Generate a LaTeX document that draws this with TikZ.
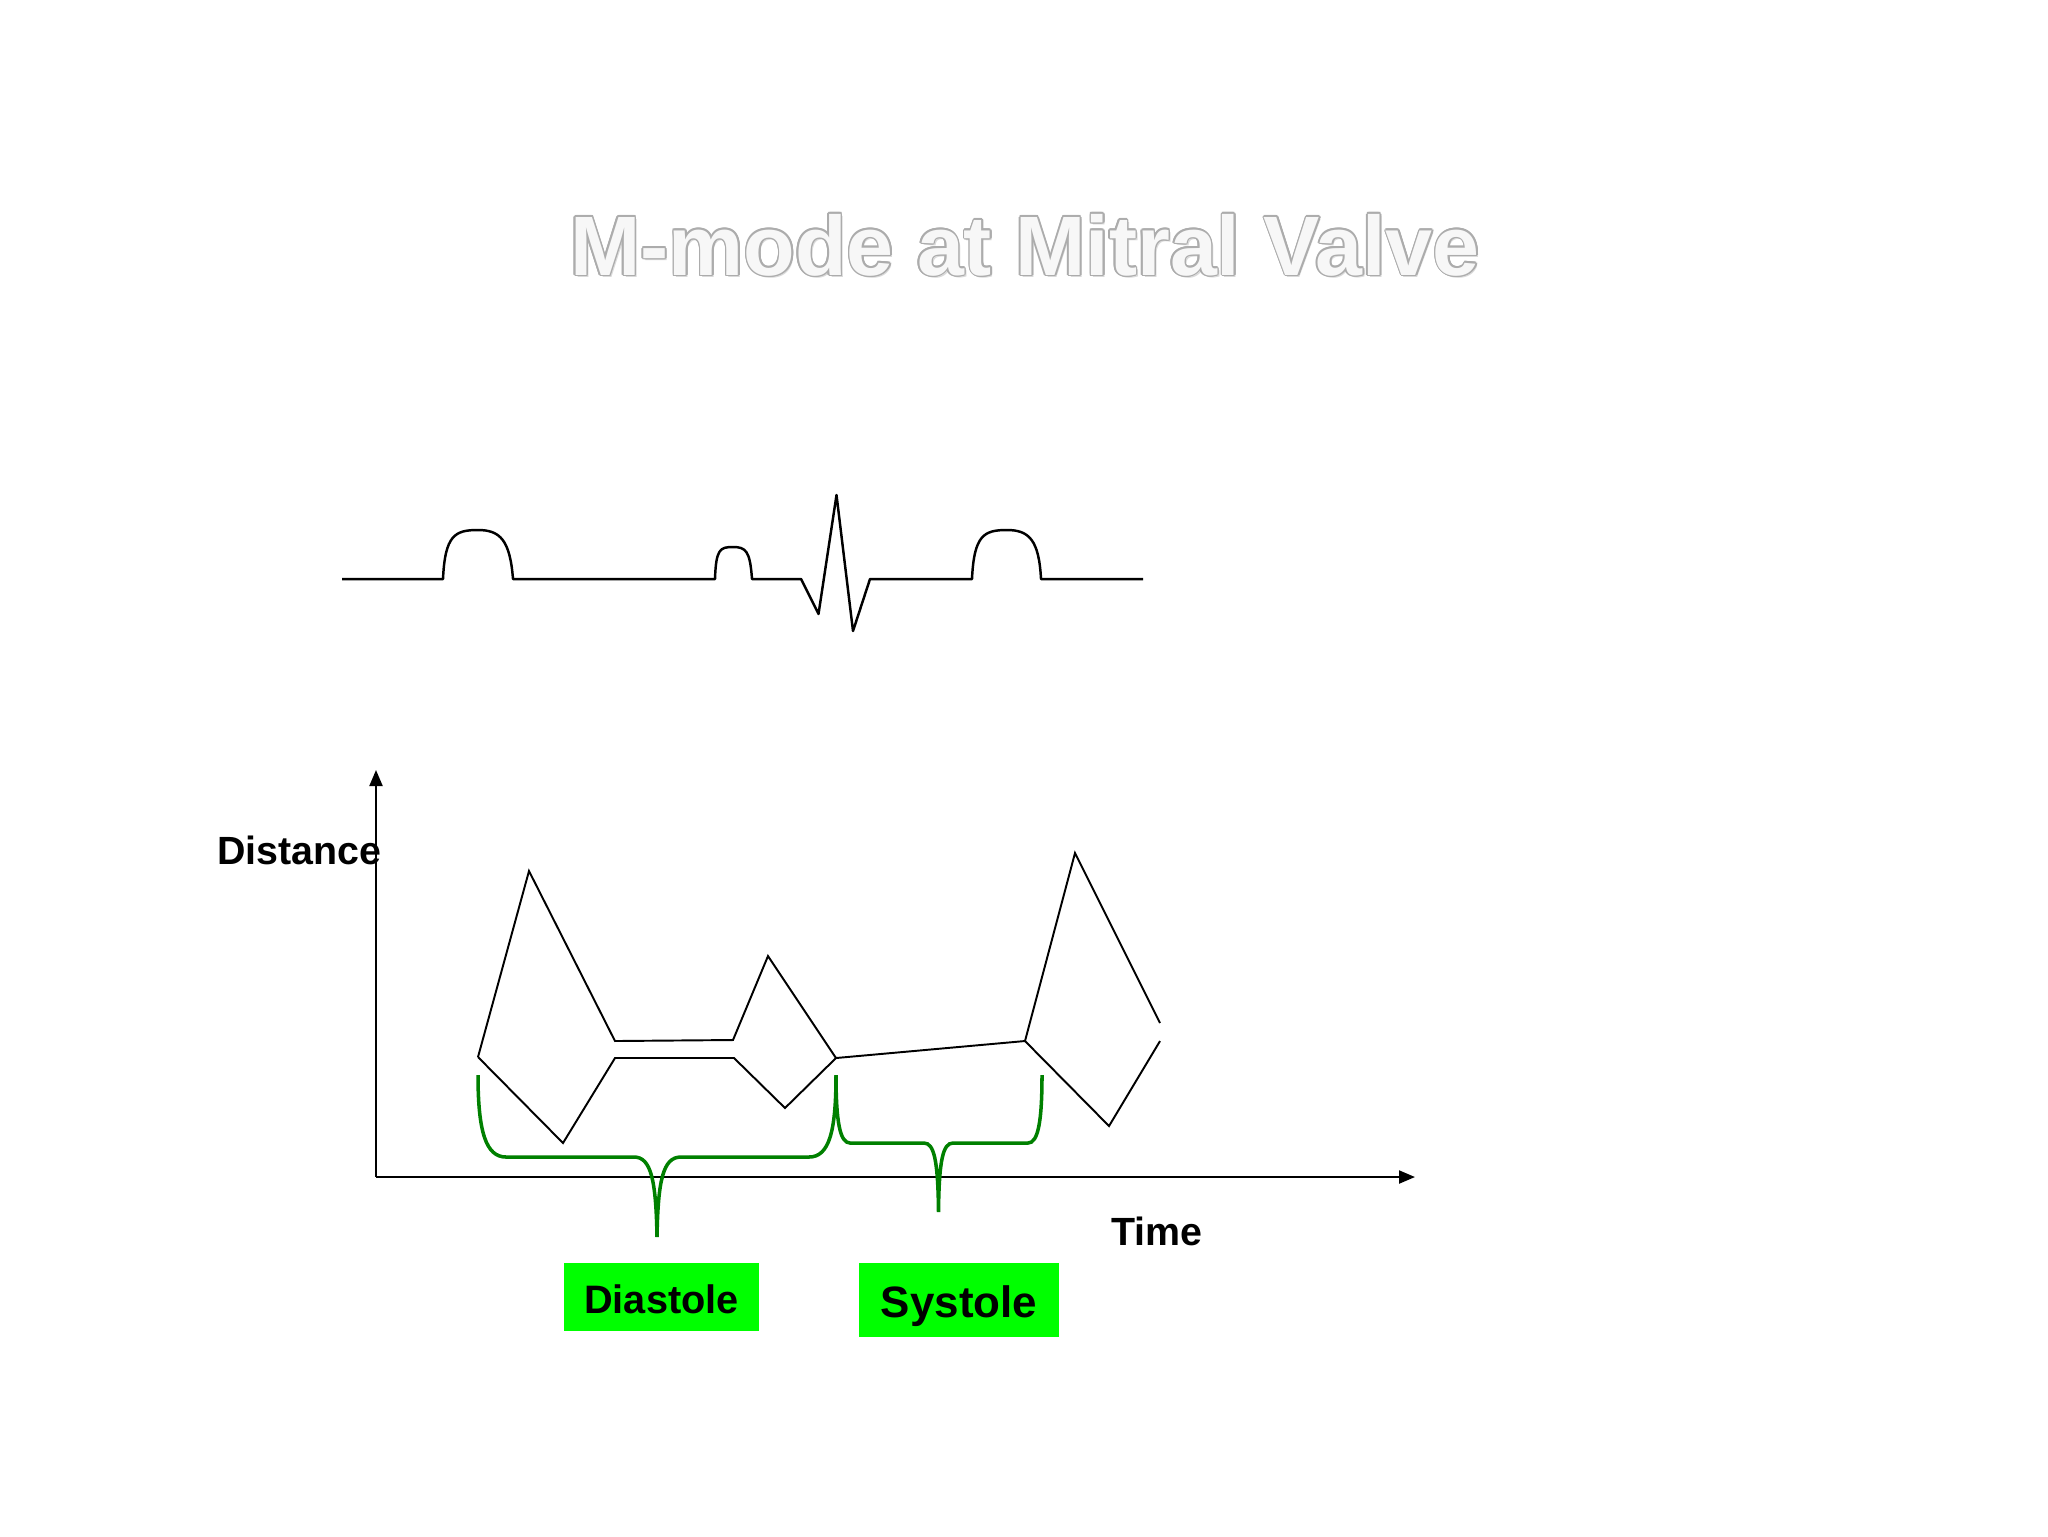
\documentclass[tikz,border=0pt]{standalone}
\usepackage{fontspec}
\setmainfont{Liberation Sans}
\usetikzlibrary{arrows.meta}
\definecolor{bracegreen}{RGB}{0,128,0}
\definecolor{phasegreen}{RGB}{0,255,0}
\begin{document}
\begin{tikzpicture}[x=0.1mm,y=-0.1mm,
  title/.style={font=\bfseries\fontsize{24}{28}\selectfont,inner sep=0},
  ecg/.style={line width=0.7pt,line join=round},
  trace/.style={line width=0.55pt},
  axis/.style={line width=0.6pt,-{Triangle[length=1.6mm,width=1.3mm]}},
  brace/.style={draw=bracegreen,line width=1pt},
  lbl/.style={font=\bfseries\fontsize{11.2}{13}\selectfont,inner sep=0},
  phase/.style={fill=phasegreen,font=\bfseries\fontsize{11.3}{13}\selectfont,inner sep=0}]
\useasboundingbox (0,0) rectangle (2048,1536);
% title
\node[title,text=gray!30] at (1027,247) {M-mode at Mitral Valve};
\foreach \a in {0,30,...,330}\node[title,text=gray!65] at ([shift={(\a:1.6)}]1025,245) {M-mode at Mitral Valve};
\node[title,text=gray!6] (title) at (1025,245) {M-mode at Mitral Valve};
% ecg
\draw[ecg] (342,579) -- (443,579) .. controls (445,535) and (455,530) .. (478,530) .. controls (500,530) and (510,540) .. (513,579)
  -- (715,579) .. controls (716,549) and (720,547) .. (733,547) .. controls (746,547) and (750,551) .. (752,579)
  -- (801,579) -- (818.5,614) -- (836.5,495) -- (853,631) -- (870,579)
  -- (972,579) .. controls (974,535) and (984,530) .. (1007,530) .. controls (1029,530) and (1039,540) .. (1041,579) -- (1143,579);
% axes
\coordinate (o) at (376,1177);\coordinate (ytop) at (376,770);\coordinate (xend) at (1415,1177);
\draw[axis] (o) -- (ytop);\draw[axis] (o) -- (xend);
\node[lbl,anchor=east] (dist) at (382,850) {Distance};
\node[lbl] (time) at (1157,1231) {Time};
% mitral valve leaflets
\draw[trace] (478,1057) -- (529,871) -- (615,1041) -- (733,1040) -- (768,956) -- (836,1058) -- (1025,1041) -- (1075,853) -- (1160,1023);
\draw[trace] (478,1057) -- (563,1143) -- (615,1058) -- (734,1058) -- (785,1108) -- (836,1058);
\draw[trace] (1025,1041) -- (1109,1126) -- (1160,1041);
% braces
\coordinate (d1) at (478,1075);\coordinate (dtip) at (657,1237);\coordinate (ds) at (836,1075);
\coordinate (stip) at (938.5,1212);\coordinate (s2) at (1042,1075);
\draw[brace] (d1) .. controls (478,1132) and (486,1157) .. (506,1157) -- (634,1157) .. controls (651,1157) and (656,1180) .. (dtip)
  .. controls (658,1180) and (663,1157) .. (681,1157) -- (809,1157) .. controls (829,1157) and (836,1132) .. (ds);
\draw[brace] (ds) .. controls (836,1122) and (840,1143) .. (850,1143) -- (924,1143) .. controls (934,1143) and (938,1160) .. (stip)
  .. controls (939,1160) and (943,1143) .. (953,1143) -- (1028,1143) .. controls (1038,1143) and (1042,1122) .. (s2);
% phases
\node[phase,minimum width=19.5mm,minimum height=6.8mm] (dia) at (661.5,1297) {\raisebox{-0.25mm}[\height][\depth]{Diastole}};
\node[phase,minimum width=20mm,minimum height=7.4mm,font=\bfseries\fontsize{12.5}{14}\selectfont] (sys) at (959,1300) {\raisebox{-0.6mm}[\height][\depth]{Systole}};
\end{tikzpicture}
\end{document}
